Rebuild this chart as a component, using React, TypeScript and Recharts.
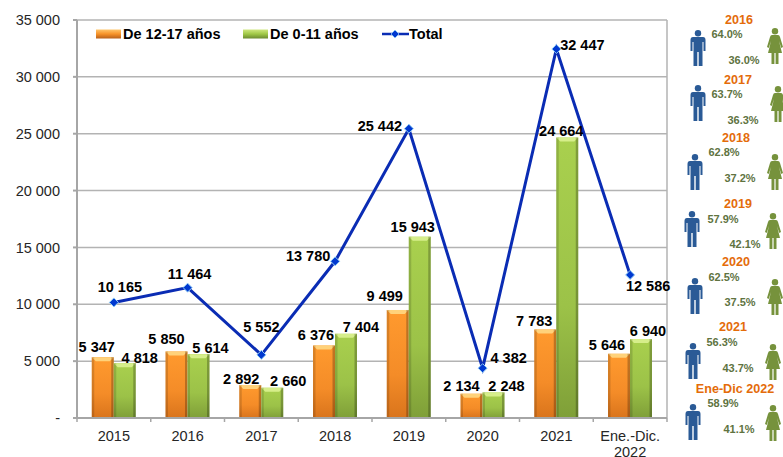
import { ComposedChart, Bar, Line, XAxis, YAxis, CartesianGrid, LabelList } from 'recharts';

const years = ['2015', '2016', '2017', '2018', '2019', '2020', '2021', 'Ene.-Dic.|2022'];
const teens = [5347, 5850, 2892, 6376, 9499, 2134, 7783, 5646];
const kids = [4818, 5614, 2660, 7404, 15943, 2248, 24664, 6940];
const totals = [10165, 11464, 5552, 13780, 25442, 4382, 32447, 12586];
const yTicks = [0, 5000, 10000, 15000, 20000, 25000, 30000, 35000];

const genderTitles = ['2016', '2017', '2018', '2019', '2020', '2021', 'Ene-Dic 2022'];
const malePct = ['64.0%', '63.7%', '62.8%', '57.9%', '62.5%', '56.3%', '58.9%'];
const femalePct = ['36.0%', '36.3%', '37.2%', '42.1%', '37.5%', '43.7%', '41.1%'];

const data = years.map((year, i) => ({ year, teens: teens[i], kids: kids[i], total: totals[i] }));

// label nudges from the default spot (centre of bar / point, just above)
const teenNudge = [[-6, -1], [-10, -3.5], [-9, 3], [-8, -1.5], [-13, -5], [-10, 1.3], [-11, 0.5], [-12, 0]];
const kidNudge = [[15, 4], [12, 3], [16, 2.3], [15, 2], [-7, -0.7], [13, 2.6], [-6, 2.4], [7, 1]];
const totalNudge = [[6, -6.4], [2, -4.7], [0, -19], [-27, 3.7], [-29, 6.3], [26, -1], [26, 5], [18, 20]];

const rowPos = [
  { title: [739, 20], man: [698, 30], female: [775, 28], m: [727, 34], f: [744, 60] },
  { title: [738, 80], man: [698, 85], female: [778, 86], m: [727, 94], f: [743, 120] },
  { title: [736, 138], man: [695, 154], female: [775, 154], m: [724, 152], f: [740, 178] },
  { title: [738, 204], man: [692, 211], female: [773, 213], m: [723, 219], f: [745, 244] },
  { title: [736, 262], man: [695, 278], female: [775, 279], m: [724, 277], f: [740, 302] },
  { title: [733, 327], man: [693, 343], female: [773, 344], m: [722, 342], f: [738, 368] },
  { title: [735, 389], man: [693, 404], female: [773, 405], m: [723, 403], f: [739, 429] },
];

function BevelBar({ x, y, width, height, fill }: any) {
  const id = fill === 'orange' ? 'barOrange' : 'barGreen';
  const top = fill === 'orange' ? '#ffd27a' : '#d6ee8a';
  const h = Math.max(height, 0);
  return (
    <g>
      <rect x={x} y={y} width={width} height={h} fill={`url(#${id})`} />
      <polygon points={`${x},${y} ${x + width},${y} ${x + width - 4},${y + 4} ${x + 4},${y + 4}`} fill={top} />
      <rect x={x} y={y} width={2.5} height={h} fill="#000" opacity={0.14} />
      <rect x={x + width - 2.5} y={y} width={2.5} height={h} fill="#000" opacity={0.24} />
    </g>
  );
}

const nudgedLabel = (nudge: number[][]) => (props: any) => {
  const { x, y, width, value, index } = props;
  const cx = x + (width || 0) / 2 + nudge[index][0];
  return (
    <text x={cx} y={y - 4 + nudge[index][1]} textAnchor="middle" fontSize={14.5} fontWeight={700} fill="#000">
      {formatNum(value)}
    </text>
  );
};

function formatNum(v: number) {
  if (v === 0) return '-';
  return String(v).replace(/\B(?=(\d{3})+$)/g, ' ');
}

function YearTick({ x, y, payload, index }: any) {
  const lines = String(payload.value).split('|');
  const band = 73.75;
  return (
    <g>
      <line x1={x - band / 2} x2={x - band / 2} y1={y - 8} y2={y - 4} stroke="#a6a6a6" strokeWidth={1.5} />
      {index === years.length - 1 && (
        <line x1={x + band / 2} x2={x + band / 2} y1={y - 8} y2={y - 4} stroke="#a6a6a6" strokeWidth={1.5} />
      )}
      {lines.map((l, i) => (
        <text key={l} x={x} y={y + 15 + i * 15.5} textAnchor="middle" fontSize={14.5} fill="#262626">{l}</text>
      ))}
    </g>
  );
}

function ChartLegend() {
  const item = { position: 'absolute', top: 26, height: 16, display: 'flex', alignItems: 'center', fontSize: 14.5, fontWeight: 700, color: '#000', whiteSpace: 'nowrap' } as const;
  return (
    <>
      <div style={{ ...item, left: 96 }}>
        <svg width={27} height={10}><rect width={25} height={9} y={0.5} fill="url(#legendOrange)" /></svg>
        De 12-17 años
      </div>
      <div style={{ ...item, left: 243 }}>
        <svg width={27} height={10}><rect width={25} height={9} y={0.5} fill="url(#legendGreen)" /></svg>
        De 0-11 años
      </div>
      <div style={{ ...item, left: 382 }}>
        <svg width={27} height={12}>
          <line x1={0} x2={27} y1={6} y2={6} stroke="#0a2cb4" strokeWidth={2.5} />
          <polygon points="13,2 17,6 13,10 9,6" fill="#0038d0" stroke="#8ecbf5" strokeWidth={0.8} />
        </svg>
        Total
      </div>
    </>
  );
}

function Diamond({ cx, cy }: any) {
  return <polygon points={`${cx},${cy - 4.5} ${cx + 4.5},${cy} ${cx},${cy + 4.5} ${cx - 4.5},${cy}`} fill="#0038d0" stroke="#8ecbf5" strokeWidth={1} />;
}

function Man({ x, y }: { x: number; y: number }) {
  return (
    <svg style={{ position: 'absolute', left: x - 8, top: y }} width={16} height={36} viewBox="0 0 16 36">
      <circle cx={8} cy={3.2} r={3.2} fill="#2a5a96" />
      <path d="M3 7 H13 Q15.5 7 15.5 10 V21 H13.5 V12 H12.5 V36 H8.7 V22 H7.3 V36 H3.5 V12 H2.5 V21 H0.5 V10 Q0.5 7 3 7 Z" fill="#2a5a96" />
    </svg>
  );
}

function Woman({ x, y }: { x: number; y: number }) {
  return (
    <svg style={{ position: 'absolute', left: x - 8, top: y }} width={16} height={36} viewBox="0 0 16 36">
      <circle cx={8} cy={3.2} r={3.2} fill="#76923c" />
      <path d="M5 7 H11 Q12.5 7 13 9 L16 19 L14.3 20 L12 13 L15 25 H11.5 V36 H8.6 V25 H7.4 V36 H4.5 V25 H1 L4 13 L1.7 20 L0 19 L3 9 Q3.5 7 5 7 Z" fill="#76923c" />
    </svg>
  );
}

function GenderPanel() {
  const centred = { position: 'absolute', transform: 'translate(-50%,-50%)', whiteSpace: 'nowrap', fontWeight: 700 } as const;
  return (
    <>
      {genderTitles.map((t, i) => {
        const p = rowPos[i];
        return (
          <div key={t}>
            <Man x={p.man[0]} y={p.man[1]} />
            <Woman x={p.female[0]} y={p.female[1]} />
            <div style={{ ...centred, left: p.title[0], top: p.title[1], fontSize: 12.6, color: '#e46c0a' }}>{t}</div>
            <div style={{ ...centred, left: p.m[0], top: p.m[1], fontSize: 11, color: '#60733f' }}>{malePct[i]}</div>
            <div style={{ ...centred, left: p.f[0], top: p.f[1], fontSize: 11, color: '#60733f' }}>{femalePct[i]}</div>
          </div>
        );
      })}
    </>
  );
}

export default function App() {
  return (
    <div style={{ position: 'absolute', left: 0, top: 0, width: 783, height: 457, overflow: 'hidden', fontFamily: 'Liberation Sans' }}>
      <ComposedChart
        width={783}
        height={457}
        data={data}
        margin={{ top: 20, right: 116, bottom: 0, left: 0 }}
        barGap={0}
        barCategoryGap="20%"
        style={{ fontFamily: 'Liberation Sans' }}
      >
        <defs>
          <linearGradient id="barOrange" x1="0" y1="0" x2="0" y2="1">
            <stop offset="0" stopColor="#ff9a2e" />
            <stop offset="0.6" stopColor="#f48c28" />
            <stop offset="1" stopColor="#d9741c" />
          </linearGradient>
          <linearGradient id="barGreen" x1="0" y1="0" x2="0" y2="1">
            <stop offset="0" stopColor="#a9d04e" />
            <stop offset="0.6" stopColor="#9cc248" />
            <stop offset="1" stopColor="#7f9f38" />
          </linearGradient>
          <linearGradient id="legendOrange" x1="0" y1="0" x2="0" y2="1">
            <stop offset="0" stopColor="#ffc56a" />
            <stop offset="0.5" stopColor="#f79228" />
            <stop offset="1" stopColor="#b8601a" />
          </linearGradient>
          <linearGradient id="legendGreen" x1="0" y1="0" x2="0" y2="1">
            <stop offset="0" stopColor="#cfe77f" />
            <stop offset="0.5" stopColor="#a0c846" />
            <stop offset="1" stopColor="#6b8a30" />
          </linearGradient>
        </defs>
        <CartesianGrid verticalPoints={[667]} stroke="#b3b3b3" strokeWidth={1.5} />
        <XAxis
          dataKey="year"
          stroke="#a6a6a6"
          strokeWidth={2}
          tickLine={false}
          height={39}
          interval={0}
          tick={<YearTick />}
        />
        <YAxis
          domain={[0, 35000]}
          ticks={yTicks}
          width={77}
          stroke="#a6a6a6"
          strokeWidth={2}
          tickSize={4}
          tickMargin={13}
          tickFormatter={formatNum}
          tick={{ fontSize: 14.5, fill: '#262626' }}
          interval={0}
        />
        <Bar dataKey="teens" fill="orange" shape={<BevelBar />} isAnimationActive={false}>
          <LabelList dataKey="teens" content={nudgedLabel(teenNudge)} />
        </Bar>
        <Bar dataKey="kids" fill="green" shape={<BevelBar />} isAnimationActive={false}>
          <LabelList dataKey="kids" content={nudgedLabel(kidNudge)} />
        </Bar>
        <Line dataKey="total" stroke="#0a2cb4" strokeWidth={3} dot={<Diamond />} isAnimationActive={false}>
          <LabelList dataKey="total" content={nudgedLabel(totalNudge)} />
        </Line>
      </ComposedChart>
      <ChartLegend />
      <GenderPanel />
    </div>
  );
}
